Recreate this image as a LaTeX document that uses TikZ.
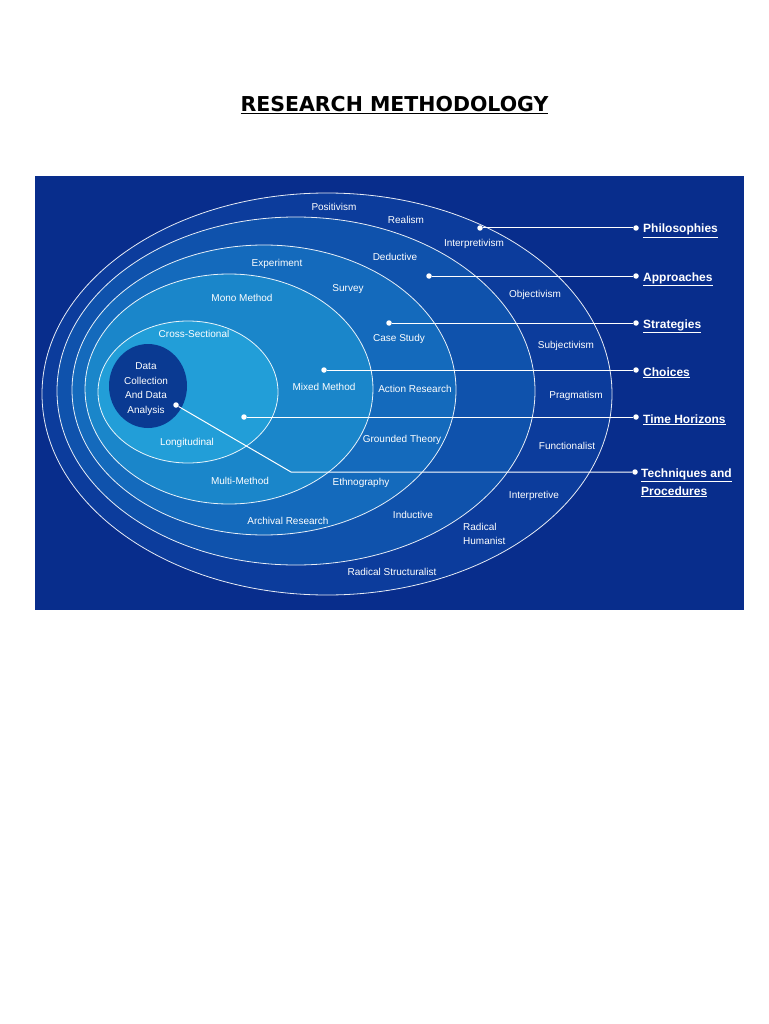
\documentclass[tikz,border=0pt]{standalone}
\usepackage{fontspec}
\setmainfont{Liberation Sans}
\newfontfamily\titlefont{DejaVu Sans}
\definecolor{bgblue}{RGB}{8,45,140}
\definecolor{ringA}{RGB}{12,60,156}
\definecolor{ringB}{RGB}{15,82,172}
\definecolor{ringC}{RGB}{20,106,188}
\definecolor{ringD}{RGB}{26,134,202}
\definecolor{ringE}{RGB}{34,158,216}
\definecolor{coreblue}{RGB}{10,58,146}
\tikzset{
  ring/.style={draw=white, line width=0.8pt, draw opacity=0.9},
  lab/.style={text=white, inner sep=0pt, font=\fontsize{10}{12}\selectfont},
  biglab/.style={text=white, inner sep=0pt, anchor=base west, font=\bfseries\fontsize{12}{14}\selectfont},
  dotnode/.style={circle, fill=white, inner sep=0pt, minimum size=5.5pt},
  conn/.style={draw=white, line width=1pt}
}
\begin{document}
\begin{tikzpicture}[x=1pt,y=-1pt]
\useasboundingbox (0,0) rectangle (768,1024);
\fill[white] (0,0) rectangle (768,1024);
% title
\node[inner sep=0pt, anchor=base, font=\titlefont\bfseries\fontsize{20.5}{24}\selectfont] (title) at (394.5,112) {\underline{RESEARCH METHODOLOGY}};
% background panel
\fill[bgblue] (35,176) rectangle (744,610);
% rings
\path[ring, fill=ringA] (327,394) ellipse [x radius=285pt, y radius=201pt];
\path[ring, fill=ringB] (296,391) ellipse [x radius=239pt, y radius=174pt];
\path[ring, fill=ringC] (264,390) ellipse [x radius=192pt, y radius=145pt];
\path[ring, fill=ringD] (229,389) ellipse [x radius=144pt, y radius=115pt];
\path[ring, fill=ringE] (188,392) ellipse [x radius=90pt, y radius=71pt];
\fill[coreblue] (148,386) ellipse [x radius=39pt, y radius=42pt];
% philosophies labels
\node[lab] (l1) at (334,207) {Positivism};
\node[lab] (l2) at (406,220) {Realism};
\node[lab] (l3) at (474,244) {Interpretivism};
\node[lab] (l4) at (535,295) {Objectivism};
\node[lab] (l5) at (566,346) {Subjectivism};
\node[lab] (l6) at (576,396) {Pragmatism};
\node[lab] (l7) at (567,446) {Functionalist};
\node[lab] (l8) at (534,496) {Interpretive};
\node[lab, align=left, anchor=west, font=\fontsize{10}{14.5}\selectfont] (l9) at (463,534) {Radical\\Humanist};
\node[lab] (l10) at (392,572) {Radical Structuralist};
% approaches
\node[lab] (a1) at (395,257) {Deductive};
\node[lab] (a2) at (413,515) {Inductive};
% strategies
\node[lab] (s1) at (277,264) {Experiment};
\node[lab] (s2) at (348,289) {Survey};
\node[lab] (s3) at (399,339) {Case Study};
\node[lab] (s4) at (415,389) {Action Research};
\node[lab] (s5) at (402,440) {Grounded Theory};
\node[lab] (s6) at (361,483) {Ethnography};
\node[lab] (s7) at (288,521) {Archival Research};
% choices
\node[lab] (c1) at (242,298) {Mono Method};
\node[lab] (c2) at (324,387) {Mixed Method};
\node[lab] (c3) at (240,481) {Multi-Method};
% time horizons
\node[lab] (t1) at (194,334) {Cross-Sectional};
\node[lab] (t2) at (187,443) {Longitudinal};
% core
\node[lab, align=center, font=\fontsize{10}{14.5}\selectfont] (core) at (146,389) {Data\\Collection\\And Data\\Analysis};
% connectors
\node[dotnode] (pd) at (480,228) {};
\node[dotnode] (pe) at (636,228) {};
\draw[conn] (pd) -- (pe);
\node[dotnode] (ad) at (429,276) {};
\node[dotnode] (ae) at (636,276) {};
\draw[conn] (ad) -- (ae);
\node[dotnode] (sd) at (389,323) {};
\node[dotnode] (se) at (636,323) {};
\draw[conn] (sd) -- (se);
\node[dotnode] (cd) at (324,370) {};
\node[dotnode] (ce) at (636,370) {};
\draw[conn] (cd) -- (ce);
\node[dotnode] (hd) at (244,417) {};
\node[dotnode] (he) at (636,417) {};
\draw[conn] (hd) -- (he);
\node[dotnode] (td) at (176,405) {};
\coordinate (tb) at (291,472);
\node[dotnode] (te) at (635,472) {};
\draw[conn] (td) -- (tb) -- (te);
% right-hand labels
\node[biglab] (pl) at (643,233) {\underline{Philosophies}};
\node[biglab] (al) at (643,281) {\underline{Approaches}};
\node[biglab] (sl) at (643,328) {\underline{Strategies}};
\node[biglab] (cl) at (643,376) {\underline{Choices}};
\node[biglab] (hl) at (643,423) {\underline{Time Horizons}};
\node[biglab] (tl) at (641,477) {\underline{Techniques and}};
\node[biglab] (tl2) at (641,495) {\underline{Procedures}};
\end{tikzpicture}
\end{document}
